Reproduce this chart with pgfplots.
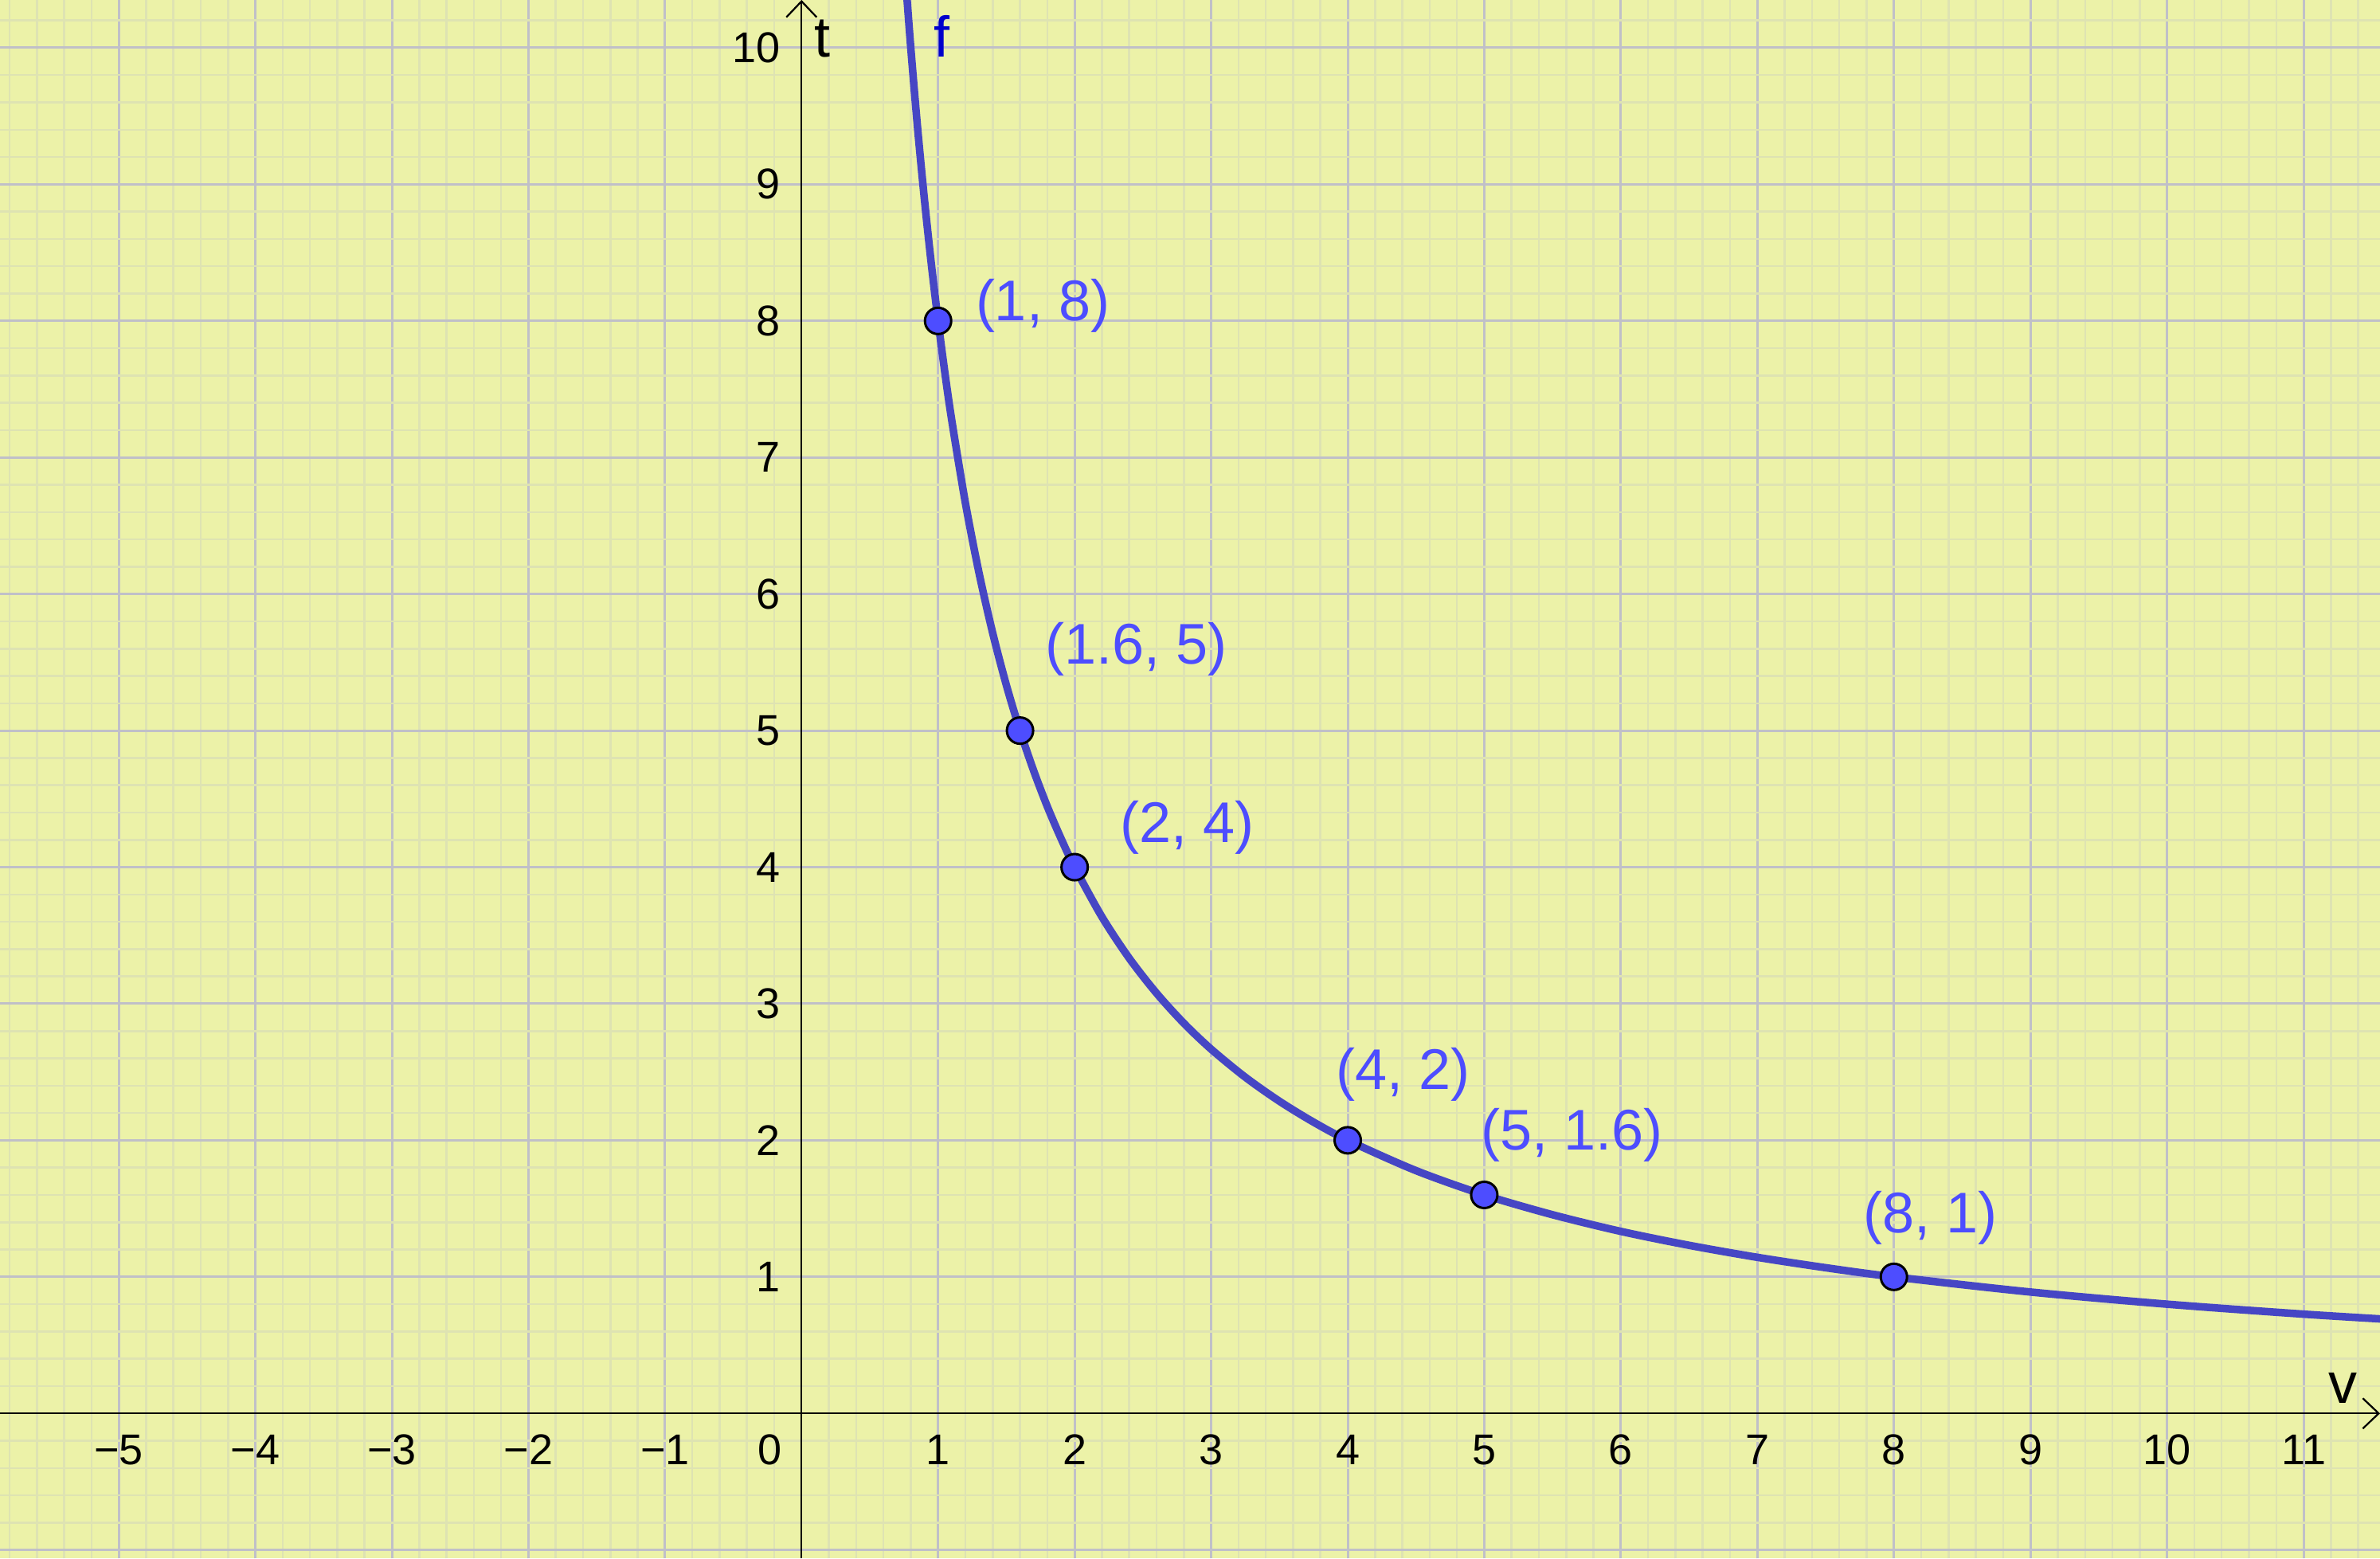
\documentclass[border=0pt]{standalone}
\usepackage{fontspec}
\setmainfont{Liberation Sans}
\usepackage{pgfplots}
\pgfplotsset{compat=1.18}
\usetikzlibrary{arrows.meta}
\definecolor{bgc}{RGB}{236,242,168}
\definecolor{majg}{RGB}{192,192,200}
\definecolor{ming}{RGB}{222,227,178}
\definecolor{curvec}{RGB}{70,70,196}
\definecolor{ptc}{RGB}{77,77,255}
\definecolor{fc}{RGB}{0,0,204}
\begin{document}
\begin{tikzpicture}
\begin{axis}[
  x=34.28bp, y=34.28bp,
  xmin=-5.87, xmax=11.56, ymin=-1.062, ymax=10.35,
  axis lines=middle,
  axis line style={line width=0.45bp, -{Straight Barb[length=4bp,width=7.6bp,line width=0.45bp]}},
  axis background/.style={fill=bgc},
  xtick={-5,-4,-3,-2,-1,0,1,2,3,4,5,6,7,8,9,10,11},
  xticklabels={−5,−4,−3,−2,−1,,1,2,3,4,5,6,7,8,9,10,11},
  ytick={-1,0,1,2,3,4,5,6,7,8,9,10},
  yticklabels={,,1,2,3,4,5,6,7,8,9,10},
  minor xtick={-5.8,-5.6,-5.4,-5.2,-4.8,-4.6,-4.4,-4.2,-3.8,-3.6,-3.4,-3.2,-2.8,-2.6,-2.4,-2.2,-1.8,-1.6,-1.4,-1.2,-0.8,-0.6,-0.4,-0.2,0.2,0.4,0.6,0.8,1.2,1.4,1.6,1.8,2.2,2.4,2.6,2.8,3.2,3.4,3.6,3.8,4.2,4.4,4.6,4.8,5.2,5.4,5.6,5.8,6.2,6.4,6.6,6.8,7.2,7.4,7.6,7.8,8.2,8.4,8.6,8.8,9.2,9.4,9.6,9.8,10.2,10.4,10.6,10.8,11.2,11.4},
  minor ytick={-0.8,-0.6,-0.4,-0.2,0.2,0.4,0.6,0.8,1.2,1.4,1.6,1.8,2.2,2.4,2.6,2.8,3.2,3.4,3.6,3.8,4.2,4.4,4.6,4.8,5.2,5.4,5.6,5.8,6.2,6.4,6.6,6.8,7.2,7.4,7.6,7.8,8.2,8.4,8.6,8.8,9.2,9.4,9.6,9.8,10.2},
  grid=both,
  major grid style={draw=majg, line width=0.6bp},
  minor grid style={draw=ming, line width=0.5bp},
  major tick length=0pt, minor tick length=0pt,
  xticklabel style={anchor=north, inner sep=0pt, yshift=-5.2bp, font=\fontsize{10.8bp}{12bp}\selectfont},
  yticklabel style={anchor=east, inner sep=0pt, xshift=-5.2bp, font=\fontsize{10.8bp}{12bp}\selectfont},
  clip=true,
]
\addplot[curvec, line width=1.9bp, smooth] coordinates {
(0.76,10.526) (0.8,10) (0.85,9.412) (0.9,8.889) (0.95,8.421) (1,8) (1.05,7.619) (1.1,7.273)
(1.2,6.667) (1.3,6.154) (1.4,5.714) (1.5,5.333) (1.6,5) (1.7,4.706) (1.8,4.444) (1.9,4.211)
(2,4) (2.2,3.636) (2.4,3.333) (2.6,3.077) (2.8,2.857) (3,2.667) (3.25,2.462) (3.5,2.286)
(3.75,2.133) (4,2) (4.5,1.778) (5,1.6) (5.5,1.455) (6,1.333) (6.5,1.231) (7,1.143)
(7.5,1.067) (8,1) (9,0.889) (10,0.8) (11,0.727) (11.7,0.684)
};
\addplot[only marks, mark=*, mark size=3.3bp, mark options={fill=ptc, draw=black, line width=0.6bp}] coordinates {
(1,8) (1.6,5) (2,4) (4,2) (5,1.6) (8,1)
};
\begin{scope}[every node/.style={inner sep=0pt, anchor=base west, text=ptc, font=\fontsize{14.4bp}{16bp}\selectfont}]
\node at (axis cs:1.27,8.0) {(1, 8)};
\node at (axis cs:1.78,5.49) {(1.6, 5)};
\node at (axis cs:2.33,4.18) {(2, 4)};
\node at (axis cs:3.91,2.37) {(4, 2)};
\node at (axis cs:4.97,1.93) {(5, 1.6)};
\node at (axis cs:7.77,1.32) {(8, 1)};
\end{scope}
\node[inner sep=0pt, anchor=base west, text=fc, font=\fontsize{14.4bp}{16bp}\selectfont] at (axis cs:0.963,9.93) {f};
\node[inner sep=0pt, anchor=base west, font=\fontsize{14.4bp}{16bp}\selectfont] at (axis cs:0.087,9.93) {t};
\node[inner sep=0pt, anchor=base west, font=\fontsize{14.4bp}{16bp}\selectfont] at (axis cs:11.18,0.076) {v};
\node[inner sep=0pt, anchor=north, yshift=-5.2bp, font=\fontsize{10.8bp}{12bp}\selectfont] at (axis cs:-0.233,0) {0};
\coordinate (SW) at (rel axis cs:0,0);
\coordinate (NE) at (rel axis cs:1,1);
\end{axis}
\pgfresetboundingbox
\path (SW) rectangle (NE);
\end{tikzpicture}
\end{document}
